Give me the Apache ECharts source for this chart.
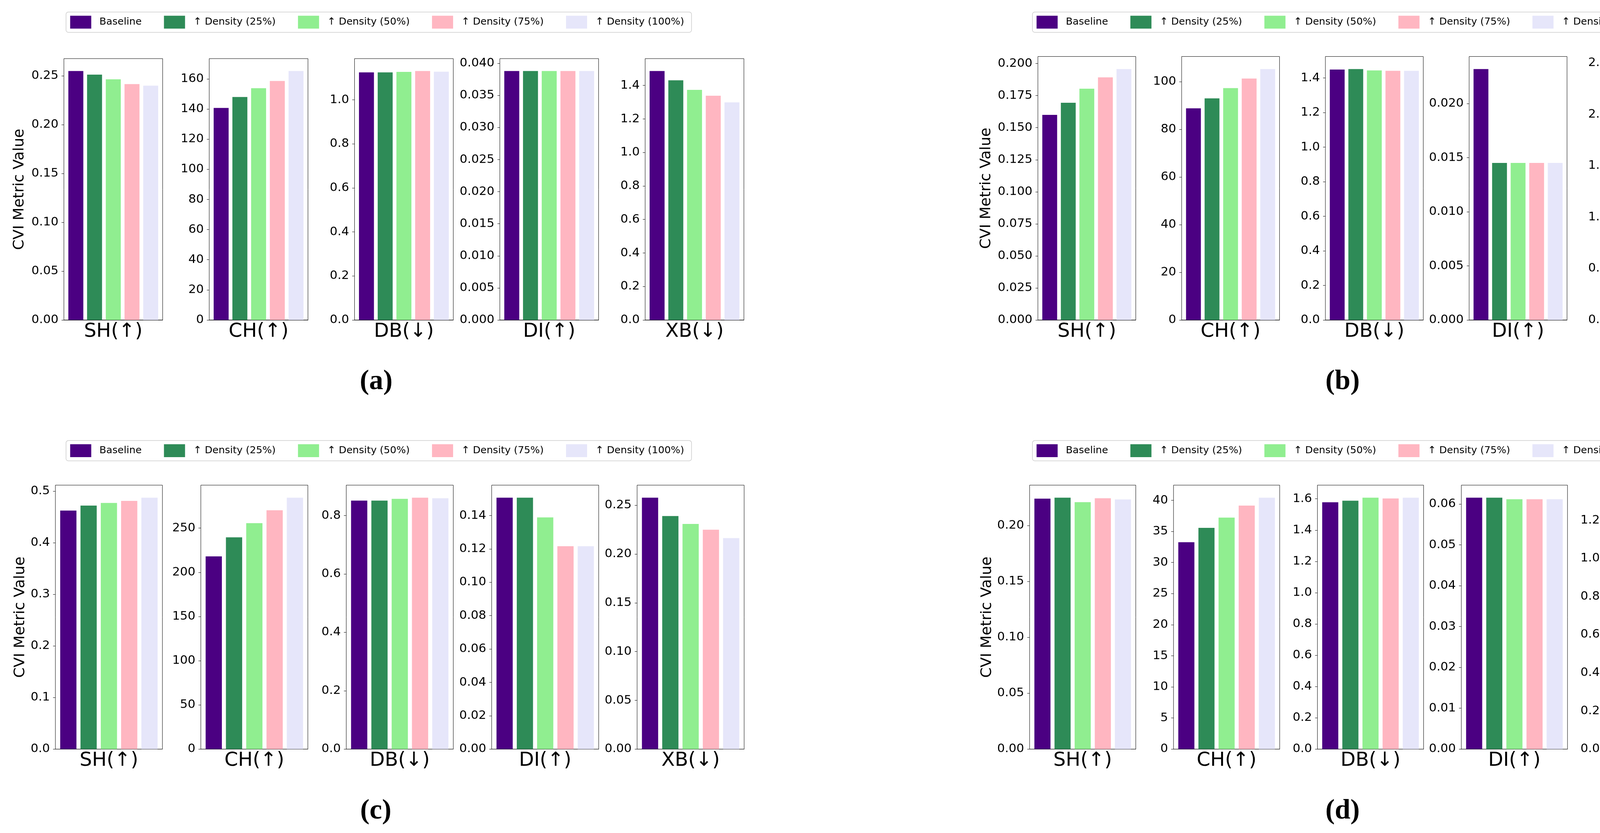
<!DOCTYPE html>
<html>
<head>
<meta charset="utf-8">
<script src="https://cdn.jsdelivr.net/npm/echarts@6/dist/echarts.min.js"></script>
<style>
  html, body { margin: 0; padding: 0; background: #fff; }
  #chart { width: 4405px; height: 2132px; }
</style>
</head>
<body>
<div id="chart"></div>
<script>
// metrics = one small axis each, settings = bars inside it
var metrics = ['SH(↑)', 'CH(↑)', 'DB(↓)', 'DI(↑)', 'XB(↓)'];
var settings = ['Baseline', '↑ Density (25%)', '↑ Density (50%)', '↑ Density (75%)', '↑ Density (100%)'];
var colors = ['#4b0082', '#2e8b57', '#90ee90', '#ffb6c1', '#e6e6fa'];

// rows follow metrics, columns follow settings
var valuesA = [
  [0.2548, 0.2511, 0.2463, 0.2414, 0.2398],
  [140.7, 148.0, 153.8, 158.6, 165.2],
  [1.125, 1.125, 1.127, 1.131, 1.128],
  [0.0388, 0.0388, 0.0388, 0.0388, 0.0388],
  [1.486, 1.431, 1.374, 1.339, 1.299]
];
var valuesB = [
  [0.1600, 0.1694, 0.1804, 0.1892, 0.1957],
  [88.8, 93.0, 97.3, 101.3, 105.3],
  [1.449, 1.452, 1.444, 1.442, 1.442],
  [0.0232, 0.01452, 0.01452, 0.01452, 0.01452],
  [2.441, 2.411, 2.258, 2.166, 2.090]
];
var valuesC = [
  [0.4624, 0.4720, 0.4771, 0.4812, 0.4873],
  [218.0, 239.6, 255.6, 270.2, 284.4],
  [0.851, 0.851, 0.857, 0.861, 0.859],
  [0.1507, 0.1507, 0.1389, 0.1216, 0.1216],
  [0.2578, 0.2390, 0.2309, 0.2250, 0.2164]
];
var valuesD = [
  [0.2241, 0.2249, 0.2209, 0.2244, 0.2234],
  [33.26, 35.57, 37.22, 39.16, 40.42],
  [1.578, 1.588, 1.607, 1.602, 1.607],
  [0.06154, 0.06154, 0.06116, 0.06116, 0.06116],
  [1.318, 1.267, 1.251, 1.189, 1.164]
];

// tick step and label decimals per metric axis
var stepsA = [0.05, 20, 0.2, 0.005, 0.2];
var digitsA = [2, 0, 1, 3, 1];
var stepsB = [0.025, 20, 0.2, 0.005, 0.5];
var digitsB = [3, 0, 1, 3, 1];
var stepsC = [0.1, 50, 0.2, 0.02, 0.05];
var digitsC = [1, 0, 1, 2, 2];
var stepsD = [0.05, 5, 0.2, 0.01, 0.2];
var digitsD = [2, 0, 1, 2, 1];

var panels = [
  {tag: 'a', values: valuesA, steps: stepsA, digits: digitsA, left: 163.6, pitch: 372, w: 252.8, top: 150, bottom: 819, legX: 169, legY: 30.7, capX: 958, capY: 974, nameX: 50},
  {tag: 'b', values: valuesB, steps: stepsB, digits: digitsB, left: 2657, pitch: 368, w: 250.6, top: 144.6, bottom: 819, legX: 2643, legY: 30.7, capX: 3432, capY: 974, nameX: 2525},
  {tag: 'c', values: valuesC, steps: stepsC, digits: digitsC, left: 141.8, pitch: 372.3, w: 274, top: 1241.7, bottom: 1917.3, legX: 169, legY: 1127.6, capX: 957, capY: 2073, nameX: 52},
  {tag: 'd', values: valuesD, steps: stepsD, digits: digitsD, left: 2635.8, pitch: 368.4, w: 271.8, top: 1241.7, bottom: 1917.3, legX: 2643, legY: 1127.6, capX: 3432, capY: 2073, nameX: 2527}
];

var grids = [], xAxes = [], yAxes = [], series = [], legends = [], titles = [];

panels.forEach(function (p) {
  legends.push({
    data: settings,
    left: p.legX, top: p.legY,
    orient: 'horizontal',
    icon: 'rect',
    itemWidth: 54, itemHeight: 33, itemGap: 57,
    padding: [9.5, 19, 9.5, 10.6],
    backgroundColor: '#fff',
    borderColor: '#cccccc', borderWidth: 1.5, borderRadius: 6,
    selectedMode: false,
    textStyle: {fontFamily: 'DejaVu Sans', fontSize: 25.5, color: '#000', padding: [0, 0, 0, 16]}
  });

  titles.push({
    text: '{p|(}{b|' + p.tag + '}{p|)}',
    left: p.capX, top: p.capY - 38,
    textAlign: 'center',
    textStyle: {
      rich: {
        p: {fontFamily: 'Liberation Serif', fontSize: 72, color: '#000'},
        b: {fontFamily: 'Liberation Serif', fontSize: 72, fontWeight: 'bold', color: '#000'}
      }
    }
  });

  metrics.forEach(function (m, j) {
    var g = grids.length;
    var vals = p.values[j];
    var top = Math.max.apply(null, vals) * 1.05;
    var step = p.steps[j], dg = p.digits[j];
    var ticks = [];
    for (var k = 0; k * step <= top + 1e-12; k++) ticks.push(+(k * step).toFixed(6));
    var left = p.left + j * p.pitch;

    grids.push({
      left: left, top: p.top, width: p.w, height: p.bottom - p.top,
      show: true, borderColor: '#000', borderWidth: 1, backgroundColor: 'transparent'
    });

    xAxes.push({
      gridIndex: g, type: 'category', data: [m],
      axisTick: {show: false},
      axisLine: {show: true, lineStyle: {color: '#000', width: 1}},
      axisLabel: {fontFamily: 'DejaVu Sans', fontSize: 50, color: '#000', margin: 5}
    });

    yAxes.push({
      gridIndex: g, type: 'value', min: 0, max: top, interval: step,
      splitLine: {show: false},
      axisLine: {show: false},
      axisTick: {show: true, length: 6, lineStyle: {color: '#000', width: 1}, customValues: ticks},
      axisLabel: {
        fontFamily: 'DejaVu Sans', fontSize: 31, color: '#000', margin: 14,
        customValues: ticks,
        formatter: function (v) { return v.toFixed(dg); }
      },
      name: j === 0 ? 'CVI Metric Value' : '',
      nameLocation: 'middle',
      nameGap: left - p.nameX - 19,
      nameTextStyle: {fontFamily: 'DejaVu Sans', fontSize: 38, color: '#000'}
    });

    settings.forEach(function (s, i) {
      series.push({
        type: 'bar', name: s,
        xAxisIndex: g, yAxisIndex: g,
        data: [vals[i]],
        barGap: '25%', barCategoryGap: '9%',
        itemStyle: {color: colors[i]}
      });
    });
  });
});

var chart = echarts.init(document.getElementById('chart'));
chart.setOption({
  animation: false,
  backgroundColor: '#fff',
  title: titles,
  legend: legends,
  grid: grids,
  xAxis: xAxes,
  yAxis: yAxes,
  series: series
});
</script>
</body>
</html>
